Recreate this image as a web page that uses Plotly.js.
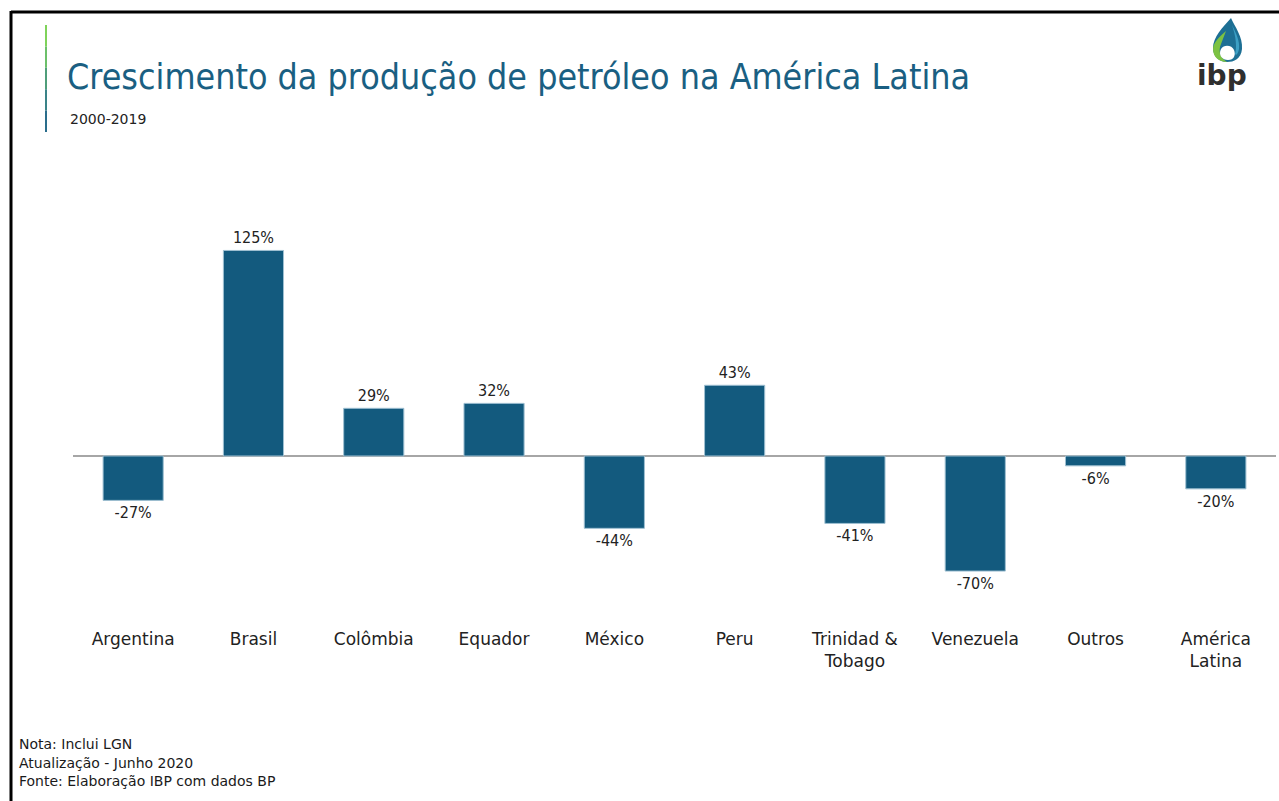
<!DOCTYPE html>
<html>
<head>
<meta charset="utf-8">
<script src="https://cdn.plot.ly/plotly-3.0.1.min.js"></script>
<style>
html,body{margin:0;padding:0;background:#fff;}
#chart{width:1279px;height:801px;}
</style>
</head>
<body>
<div id="chart"></div>
<script>
const categories = ["Argentina","Brasil","Colômbia","Equador","México","Peru","Trinidad &<br>Tobago","Venezuela","Outros","América<br>Latina"];
const growth = [-27,125,29,32,-44,43,-41,-70,-6,-20];
const titleText = "Crescimento da produção de petróleo na América Latina";
const subtitleText = "2000-2019";
const notes = ["Nota: Inclui LGN","Atualização - Junho 2020","Fonte: Elaboração IBP com dados BP"];

const W = 1279, H = 801;
const M = {l:73, r:3, t:234, b:174};
const PW = W - M.l - M.r, PH = H - M.t - M.b;
const px = x => (x - M.l) / PW;
const py = y => (H - M.b - y) / PH;
const FONTC = "'DejaVu Sans Condensed','DejaVu Sans',sans-serif";
const FONT = "'DejaVu Sans',sans-serif";

const trace = {
  type: 'bar',
  x: categories,
  y: growth,
  text: growth.map(v => String(v) + '%'),
  texttemplate: '%{text}',
  marker: {color: '#135a7e', line: {color: '#9fc0d2', width: 1}},
  textposition: 'outside',
  textfont: {family: FONTC, size: 16, color: '#222'},
  cliponaxis: false,
  hoverinfo: 'x+y'
};

const shapes = [];
// frame
shapes.push({type:'line', xref:'paper', yref:'paper', x0:px(11), x1:px(1279), y0:py(12), y1:py(12), line:{color:'#000', width:3}});
shapes.push({type:'line', xref:'paper', yref:'paper', x0:px(11), x1:px(11), y0:py(11), y1:py(801), line:{color:'#000', width:3}});
// accent bar gradient
const segCols = ['#7fd35a','#6cc06a','#4f9e7a','#3a8388','#2a6d8c'];
const segTop = 25, segBot = 132, n = segCols.length;
for (let i = 0; i < n; i++) {
  const a = segTop + (segBot - segTop) * i / n, b = segTop + (segBot - segTop) * (i + 1) / n;
  shapes.push({type:'line', xref:'paper', yref:'paper', x0:px(46), x1:px(46), y0:py(a), y1:py(b), line:{color:segCols[i], width:2}});
}
// logo drop (pixel-anchored decoration), anchor at drop's round centre
const ax = px(1227), ay = py(47);
const drop = (path, color) => shapes.push({type:'path', xref:'paper', yref:'paper', xsizemode:'pixel', ysizemode:'pixel',
  xanchor:ax, yanchor:ay, path:path, fillcolor:color, line:{width:0}});
// full blue drop
drop('M 4 29 C 8 20, 16 10, 15 -2 C 14 -12, 7 -15, 0 -15 C -8 -15, -14 -9, -14 -1 C -14 10, -4 20, 4 29 Z', '#1d6f94');
// green left crescent
drop('M -1 16 C -8 10, -14 4, -14 -2 C -14 -10, -8 -15, 0 -15 C -7 -11, -9 -4, -6 3 Z', '#7cc242');
// white inner
drop('M -6 -2 C -9 -8, -5 -13, 1 -13 C 7 -13, 9 -8, 7 -3 C 5 2, -3 3, -6 -2 Z', '#ffffff');
// light-blue highlight on right
drop('M 5 22 C 9 14, 13 6, 12 -2 C 11 -7, 9 -9, 8 -7 C 10 0, 9 10, 5 22 Z', '#3c9fc4');

const annotations = [];
annotations.push({xref:'paper', yref:'paper', x:px(68), y:py(119), xanchor:'left', yanchor:'middle', showarrow:false,
  text:subtitleText, font:{family:FONT, size:14, color:'#222'}});
annotations.push({xref:'paper', yref:'paper', x:px(1222), y:py(75), xanchor:'center', yanchor:'middle', showarrow:false,
  text:'<b>ibp</b>', font:{family:FONT, size:28, color:'#2f2f2f'}});
notes.forEach((t, i) => {
  annotations.push({xref:'paper', yref:'paper', x:px(17), y:py(744 + i * 18.5), xanchor:'left', yanchor:'middle', showarrow:false,
    text:t, font:{family:FONT, size:14, color:'#1a1a1a'}});
});

const layout = {
  width: W, height: H,
  margin: M,
  paper_bgcolor: '#fff', plot_bgcolor: '#fff',
  showlegend: false,
  bargap: 0.5,
  title: {text: titleText, xref:'container', yref:'container', x: 67 / W, xanchor:'left', y: 1 - 77 / H, yanchor:'middle',
    font:{family:FONTC, size:35.5, color:'#1a5f82'}},
  xaxis: {type:'category', showgrid:false, showline:false, ticks:'', zeroline:false,
    tickfont:{family:FONT, size:17, color:'#222'}, automargin:false},
  yaxis: {range:[-104, 135], showgrid:false, showline:false, ticks:'', showticklabels:false,
    zeroline:true, zerolinecolor:'#a6a6a6', zerolinewidth:1.5, automargin:false},
  shapes: shapes,
  annotations: annotations,
  font: {family: FONT}
};

Plotly.newPlot('chart', [trace], layout, {displayModeBar:false, staticPlot:true});
</script>
</body>
</html>
